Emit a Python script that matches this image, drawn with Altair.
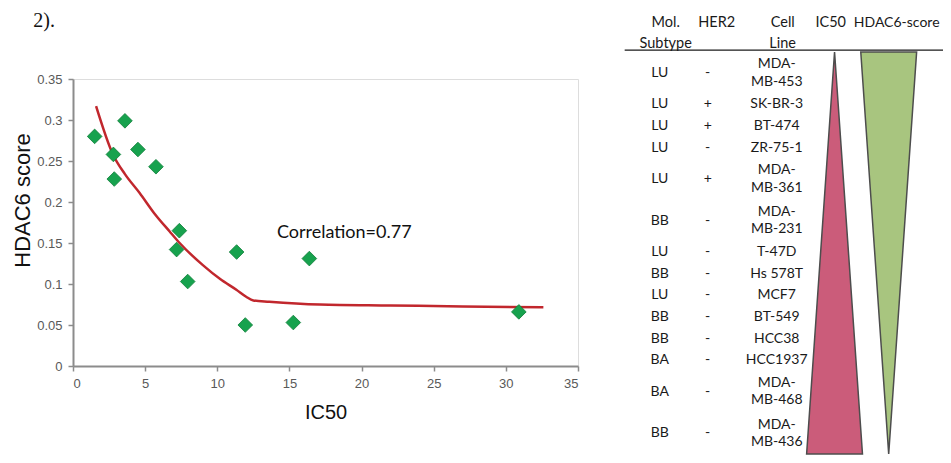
import altair as alt
import pandas as pd

# ---- scatter data ----
ic50 = [1.5, 2.8, 2.86, 3.6, 4.5, 5.75, 7.18, 7.37, 7.95, 11.34, 11.94, 15.27, 16.38, 30.9]
hdac6 = [0.280, 0.258, 0.228, 0.299, 0.264, 0.243, 0.142, 0.165, 0.103, 0.139, 0.050, 0.053, 0.131, 0.066]

fit_x = [1.6, 2.77, 3.6, 4.62, 5.6, 6.7, 7.39, 9.0, 10.2, 11.32, 12.0, 12.5, 13.6, 17.1, 22.0, 27.0, 32.6]
fit_y = [0.317, 0.258, 0.234, 0.211, 0.187, 0.164, 0.150, 0.123, 0.106, 0.093, 0.0845, 0.0800, 0.0784,
         0.0750, 0.0738, 0.0727, 0.0716]

x_ticks = [0, 5, 10, 15, 20, 25, 30, 35]
y_ticks = [0, 0.05, 0.1, 0.15, 0.2, 0.25, 0.3, 0.35]

# ---- table data ----
headers = ["Mol.\nSubtype", "HER2", "Cell\nLine", "IC50", "HDAC6-score"]
subtype = ["LU", "LU", "LU", "LU", "LU", "BB", "LU", "BB", "LU", "BB", "BB", "BA", "BA", "BB"]
her2 = ["-", "+", "+", "-", "+", "-", "-", "-", "-", "-", "-", "-", "-", "-"]
cell_line = ["MDA-\nMB-453", "SK-BR-3", "BT-474", "ZR-75-1", "MDA-\nMB-361", "MDA-\nMB-231", "T-47D",
             "Hs 578T", "MCF7", "BT-549", "HCC38", "HCC1937", "MDA-\nMB-468", "MDA-\nMB-436"]

# ---- layout ----
W, H = 505, 287
PAD = {"left": 65, "top": 71, "right": 365, "bottom": 89}   # svg = 935 x 447
DOUBLE = 1.927          # height of a two-line row, in single-row units
ROW_PX = 21.7           # approx pixels per single row
LINE_H = 17.5           # line height of two-line cells (px)

heights = [DOUBLE if "\n" in c else 1.0 for c in cell_line]
mids, firsts, acc = [], [], 0.0
for h, c in zip(heights, cell_line):
    n = c.count("\n") + 1
    m = acc + h / 2
    mids.append(m)
    firsts.append(m - (n - 1) * (LINE_H / ROW_PX) / 2)
    acc += h
total = acc

rows = pd.DataFrame({"subtype": subtype, "her2": her2, "cell": cell_line, "ymid": mids, "yfirst": firsts})

xs_sc = alt.Scale(domain=[0, 35], nice=False, zero=False)
ys_sc = alt.Scale(domain=[0, 0.35], nice=False, zero=False)

# table scales: column index -> pixels, row units -> pixels
xs_tb = alt.Scale(domain=[0, 4], range=[587.7, 815.7], nice=False, zero=False)
ys_tb = alt.Scale(domain=[0, total], range=[-27, 375], nice=False, zero=False)

pts = pd.DataFrame({"ic50": ic50, "hdac6": hdac6})
fit = pd.DataFrame({"x": fit_x, "y": fit_y})

x_axis = alt.Axis(values=x_ticks, grid=False, labelFont="Liberation Sans Narrow, Liberation Sans",
                  labelFontSize=13, labelColor="#595959", labelPadding=6, domainColor="#8c8c8c",
                  domainWidth=2, tickColor="#8c8c8c", tickWidth=1.5, tickSize=5,
                  title="IC50", titleFont="Liberation Sans", titleFontSize=20, titleFontWeight="normal",
                  titleColor="#111111", titleY=46, titleBaseline="middle")
y_axis = alt.Axis(values=y_ticks, format="~g", grid=False, labelFont="Liberation Sans Narrow, Liberation Sans",
                  labelFontSize=13, labelColor="#595959", labelPadding=6, domainColor="#8c8c8c",
                  domainWidth=2, tickColor="#8c8c8c", tickWidth=1.5, tickSize=5,
                  title="HDAC6 score", titleFont="Liberation Sans", titleFontSize=22, titleFontWeight="normal",
                  titleColor="#111111", titleX=-51, titleY=121, titleAngle=270,
                  titleAlign="center", titleBaseline="middle")

points = alt.Chart(pts).mark_point(shape="diamond", filled=True, size=215, color="#17a24e",
                                   stroke="#0f7d39", strokeWidth=0.8, opacity=1).encode(
    x=alt.X("ic50:Q", scale=xs_sc, axis=x_axis),
    y=alt.Y("hdac6:Q", scale=ys_sc, axis=y_axis),
)
line = alt.Chart(fit).mark_line(color="#c1272d", strokeWidth=2.5, interpolate="monotone").encode(
    x=alt.X("x:Q", scale=xs_sc),
    y=alt.Y("y:Q", scale=ys_sc),
)
corr = alt.Chart(pd.DataFrame({"t": ["Correlation=0.77"]})).mark_text(
    font="Lato", fontSize=18, color="#111111", align="center", baseline="middle").encode(
    x=alt.X(datum=18.8, type="quantitative", scale=xs_sc),
    y=alt.Y(datum=0.1622, type="quantitative", scale=ys_sc),
    text="t:N",
)
fig_txt = alt.Chart(pd.DataFrame({"t": ["2)."]})).mark_text(
    font="Liberation Serif", fontSize=20, color="#111111", align="right", baseline="alphabetic").encode(
    x=alt.X(datum=-1.25, type="quantitative", scale=xs_sc),
    y=alt.Y(datum=0.4135, type="quantitative", scale=ys_sc),
    text="t:N",
)
scatter = alt.layer(fig_txt, line, points, corr)

# ---- table ----
def tx(d):
    return alt.X(datum=d, type="quantitative", scale=xs_tb, axis=None)

def ty(d):
    return alt.Y(datum=d, type="quantitative", scale=ys_tb, axis=None)

rule = alt.Chart(pd.DataFrame({"a": [0]})).mark_rule(color="#1a1a1a", strokeWidth=1.3).encode(
    x=tx(-0.632), x2=alt.X2(datum=5.07), y=ty(-0.09))

HW = 0.49
tri_ic = pd.DataFrame({"y": [0, total], "l": [3.05, 3.05 - HW], "r": [3.05, 3.05 + HW]})
tri_hd = pd.DataFrame({"y": [0, total], "l": [4.0 - HW, 4.0], "r": [4.0 + HW, 4.0]})

def tri(df, color):
    return alt.Chart(df).mark_area(orient="horizontal", color=color, stroke="#4d4d4d",
                                   strokeWidth=1.5, opacity=1).encode(
        y=alt.Y("y:Q", scale=ys_tb, axis=None),
        x=alt.X("l:Q", scale=xs_tb, axis=None),
        x2="r:Q",
    )

hdr_dx = [5, -1, 8, -1, 8]
hdr_layers = []
for i, h in enumerate(headers):
    hdr_layers.append(
        alt.Chart(pd.DataFrame({"t": [h]})).mark_text(
            font="Lato", fontSize=14.5 if i < 4 else 14, color="#1a1a1a", align="center",
            baseline="alphabetic", lineBreak="\n", lineHeight=21, dx=hdr_dx[i]).encode(
            x=tx(i), y=ty(-1.18), text="t:N"))

def col(field, yfield, i, dx):
    return alt.Chart(rows).mark_text(font="Lato", fontSize=14, color="#1a1a1a", align="center",
                                     baseline="middle", lineBreak="\n", lineHeight=LINE_H, dx=dx).encode(
        x=tx(i), y=alt.Y(f"{yfield}:Q", scale=ys_tb, axis=None), text=f"{field}:N")

table = alt.layer(rule, tri(tri_ic, "#cb5c7a"), tri(tri_hd, "#a8c57f"), *hdr_layers,
                  col("subtype", "ymid", 0, -1), col("her2", "ymid", 1, -10), col("cell", "yfirst", 2, 2))

chart = alt.layer(scatter, table).resolve_scale(x="independent", y="independent").properties(
    width=W, height=H, autosize=alt.AutoSizeParams(type="none"), padding=PAD,
).configure_view(stroke=None).configure(background="white")

chart.save("out.html", embed_options={"renderer": "svg", "actions": False})
